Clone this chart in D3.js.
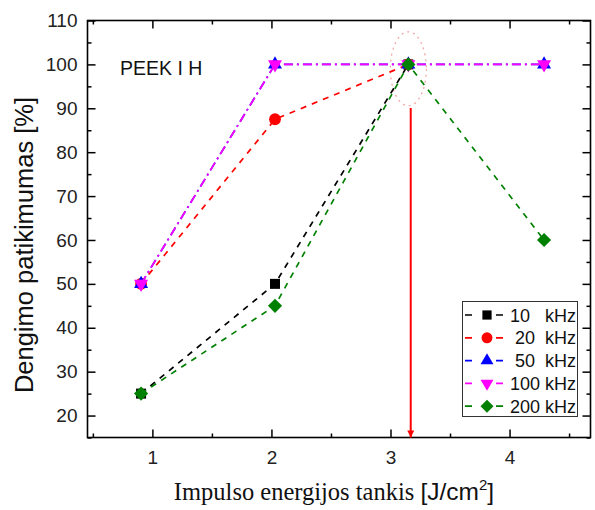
<!DOCTYPE html>
<html lang="lt">
<head>
	<meta charset="UTF-8">
	<title>PEEK I H</title>
	<script src="https://d3js.org/d3.v7.min.js"></script>
	<style>
		body { margin: 0; background: #fff; }
		svg { display: block; font-family: "Liberation Sans", Arial, sans-serif; }
		.legend text { white-space: pre; }
	</style>
</head>
<body>
	<svg id="chart" width="595" height="510"></svg>

	<script>
		// data
		var seriesNames = ["10   kHz", " 20  kHz", " 50  kHz", "100 kHz", "200 kHz"];
		var colours = ["#000000", "#ff0000", "#0000ff", "#ff00ff", "#008000"];
		var xs10 = [0.905, 2.03, 3.15];
		var ys10 = [25, 50, 100];
		var xs20 = [0.905, 2.03, 3.15];
		var ys20 = [50, 87.5, 100];
		var xs50 = [0.905, 2.03, 3.15, 4.29];
		var ys50 = [50, 100, 100, 100];
		var xs100 = [0.905, 2.03, 3.15, 4.29];
		var ys100 = [50, 100, 100, 100];
		var xs200 = [0.905, 2.03, 3.15, 4.29];
		var ys200 = [25, 45, 100, 60];
		var xTicks = [1, 2, 3, 4];
		var yTicks = [20, 30, 40, 50, 60, 70, 80, 90, 100, 110];
		var arrowX = 3.17;

		var mLeft = 87.5, mRight = 590.5, mTop = 20.5, mBottom = 437.5;
		var svg = d3.select("#chart");

		var x = d3.scaleLinear().domain([0.455, 4.68]).range([mLeft, mRight]);
		var y = d3.scaleLinear().domain([15, 110]).range([mBottom, mTop]);

		// frame
		svg.append("rect")
			.attr("x", mLeft).attr("y", mTop)
			.attr("width", mRight - mLeft).attr("height", mBottom - mTop)
			.attr("fill", "none").attr("stroke", "#000").attr("stroke-width", 1.6);

		function styleAxis(g) {
			g.select(".domain").remove();
			g.selectAll(".tick line").attr("stroke", "#000").attr("stroke-width", 1.5);
			g.selectAll("text").attr("font-size", 19).attr("fill", "#222")
				.attr("font-family", "'Liberation Sans', Arial, sans-serif");
		}

		var xMinor = d3.range(0.5, 4.6, 1);
		var yMinor = d3.range(15, 110, 10);

		svg.append("g").attr("transform", "translate(0," + mBottom + ")")
			.call(d3.axisBottom(x).tickValues(xTicks).tickSize(-8).tickPadding(13).tickFormat(d3.format("d")))
			.call(styleAxis);
		svg.append("g").attr("transform", "translate(0," + mBottom + ")")
			.call(d3.axisBottom(x).tickValues(xMinor).tickSize(-4).tickFormat(""))
			.call(styleAxis);
		svg.append("g").attr("transform", "translate(0," + mTop + ")")
			.call(d3.axisTop(x).tickValues(xTicks).tickSize(-8).tickFormat(""))
			.call(styleAxis);
		svg.append("g").attr("transform", "translate(0," + mTop + ")")
			.call(d3.axisTop(x).tickValues(xMinor).tickSize(-4).tickFormat(""))
			.call(styleAxis);

		svg.append("g").attr("transform", "translate(" + mLeft + ",0)")
			.call(d3.axisLeft(y).tickValues(yTicks).tickSize(-8).tickPadding(10).tickFormat(d3.format("d")))
			.call(styleAxis);
		svg.append("g").attr("transform", "translate(" + mLeft + ",0)")
			.call(d3.axisLeft(y).tickValues(yMinor).tickSize(-4).tickFormat(""))
			.call(styleAxis);
		svg.append("g").attr("transform", "translate(" + mRight + ",0)")
			.call(d3.axisRight(y).tickValues(yTicks).tickSize(-8).tickFormat(""))
			.call(styleAxis);
		svg.append("g").attr("transform", "translate(" + mRight + ",0)")
			.call(d3.axisRight(y).tickValues(yMinor).tickSize(-4).tickFormat(""))
			.call(styleAxis);

		// axis titles
		svg.append("text")
			.attr("transform", "translate(33,245) rotate(-90)")
			.attr("text-anchor", "middle").attr("font-size", 25.5).attr("fill", "#111")
			.text("Dengimo patikimumas [%]");

		var xt = svg.append("text")
			.attr("x", 334).attr("y", 500)
			.attr("text-anchor", "middle").attr("font-size", 24.5).attr("fill", "#111");
		xt.append("tspan").attr("font-family", "'Liberation Serif', 'Times New Roman', serif")
			.text("Impulso energijos tankis ");
		xt.append("tspan").text("[J/cm");
		xt.append("tspan").attr("font-size", 15).attr("dy", -10).text("2");
		xt.append("tspan").attr("dy", 10).text("]");

		svg.append("text")
			.attr("x", 120).attr("y", 75)
			.attr("font-size", 19.5).attr("fill", "#111")
			.text("PEEK I H");

		// highlight ellipse and arrow
		svg.append("ellipse")
			.attr("cx", x(3.15)).attr("cy", y(99))
			.attr("rx", 18).attr("ry", 37)
			.attr("fill", "none").attr("stroke", "#f4a0a0").attr("stroke-width", 1.2)
			.attr("stroke-dasharray", "2,4");

		svg.append("defs").append("marker")
			.attr("id", "head").attr("viewBox", "0 0 10 10")
			.attr("refX", 10).attr("refY", 5)
			.attr("markerWidth", 10).attr("markerHeight", 7)
			.attr("markerUnits", "userSpaceOnUse")
			.attr("orient", "auto")
			.append("path").attr("d", "M0,0 L10,5 L0,10 Z").attr("fill", "#ff0000");

		svg.append("line")
			.attr("x1", x(arrowX)).attr("x2", x(arrowX))
			.attr("y1", 108).attr("y2", mBottom)
			.attr("stroke", "#ff0000").attr("stroke-width", 2)
			.attr("marker-end", "url(#head)");

		// series
		var series = [
			{ xs: xs10, ys: ys10, symbol: d3.symbolSquare, size: 100, dash: "6,6", rot: 0 },
			{ xs: xs20, ys: ys20, symbol: d3.symbolCircle, size: 110, dash: "6,6", rot: 0 },
			{ xs: xs50, ys: ys50, symbol: d3.symbolTriangle, size: 85, dash: "9,4,2,4", rot: 0 },
			{ xs: xs100, ys: ys100, symbol: d3.symbolTriangle, size: 85, dash: "9,4,2,4", rot: 180 },
			{ xs: xs200, ys: ys200, symbol: d3.symbolSquare, size: 100, dash: "6,6", rot: 45 }
		];

		var line = d3.line().x(function(d) { return x(d[0]); }).y(function(d) { return y(d[1]); });

		series.forEach(function(s, i) {
			var pts = d3.zip(s.xs, s.ys);
			svg.append("path")
				.attr("d", line(pts))
				.attr("fill", "none")
				.attr("stroke", colours[i]).attr("stroke-width", 1.7)
				.attr("stroke-dasharray", s.dash);
			svg.append("g").selectAll("path").data(pts).enter().append("path")
				.attr("d", d3.symbol().type(s.symbol).size(s.size))
				.attr("transform", function(d) {
					return "translate(" + x(d[0]) + "," + y(d[1]) + ") rotate(" + s.rot + ")";
				})
				.attr("fill", colours[i]);
		});

		// legend
		var lg = svg.append("g").attr("class", "legend");
		lg.append("rect")
			.attr("x", 462.5).attr("y", 301.5).attr("width", 115).attr("height", 115)
			.attr("fill", "#fff").attr("stroke", "#333").attr("stroke-width", 1);
		seriesNames.forEach(function(name, i) {
			var ry = 315 + i * 22.8;
			lg.append("line")
				.attr("x1", 465).attr("x2", 503).attr("y1", ry).attr("y2", ry)
				.attr("stroke", colours[i]).attr("stroke-width", 1.7)
				.attr("stroke-dasharray", "7,24");
			lg.append("path")
				.attr("d", d3.symbol().type(series[i].symbol).size(series[i].size * 0.85))
				.attr("transform", "translate(487," + ry + ") rotate(" + series[i].rot + ")")
				.attr("fill", colours[i]);
			lg.append("text")
				.attr("x", 510).attr("y", ry + 6.5)
				.attr("font-size", 18).attr("fill", "#111")
				.text(name);
		});
	</script>
</body>
</html>
